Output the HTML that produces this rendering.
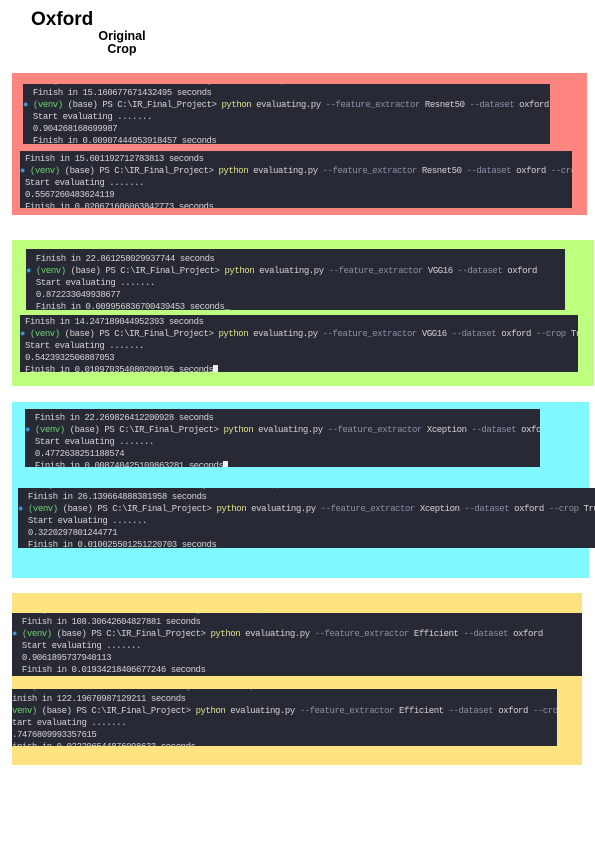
<!DOCTYPE html>
<html><head><meta charset="utf-8"><style>
body{margin:0;width:595px;height:842px;background:#fff;position:relative;overflow:hidden;font-family:"Liberation Sans",sans-serif}
.p{position:absolute}
.t{position:absolute;background:#272a35;overflow:hidden;font-family:"Liberation Mono",monospace;font-size:9px;letter-spacing:-0.44px;line-height:12px;color:#d4d4d4;box-sizing:border-box;padding-top:2px}
.t div{height:12px;white-space:pre}
.y{color:#e2e08c}.g{color:#6fd36f}.f{color:#8a90aa}.d{color:#3a96dd}
.cur{display:inline-block;width:5px;height:8px;background:#eee;vertical-align:-1px}
.dim{color:#6a6f80}
</style></head><body>
<div class="p" style="left:31px;top:9px;font-size:19px;font-weight:bold">Oxford</div>
<div class="p" style="left:95px;top:30px;font-size:12.5px;font-weight:bold;line-height:12.5px;text-align:center;width:54px">Original<br>Crop</div>

<div class="p" style="left:12px;top:73px;width:575px;height:142px;background:#ff8680"></div>
<div class="p" style="left:12px;top:240px;width:582px;height:146px;background:#bfff80"></div>
<div class="p" style="left:12px;top:402px;width:577px;height:176px;background:#80f8ff"></div>
<div class="p" style="left:12px;top:593px;width:570px;height:172px;background:#ffe380"></div>

<div class="t" style="left:23px;top:84px;width:527px;height:60px"><div style="margin-top:-11px" class="dim">  1/1 [==============================] - 0s 31ms/step</div><div>  Finish in 15.160677671432495 seconds</div><div><span class="d">●</span> <span class="g">(venv)</span> (base) PS C:\IR_Final_Project&gt; <span class="y">python</span> evaluating.py <span class="f">--feature_extractor</span> Resnet50 <span class="f">--dataset</span> oxford</div><div>  Start evaluating .......</div><div>  0.904268168699987</div><div>  Finish in 0.00907444953918457 seconds</div><div class="dim">  (venv) (base) PS C:\IR_Final_Project&gt; <span class="cur"></span></div></div>
<div class="t" style="left:20px;top:151px;width:552px;height:57px"><div style="margin-top:-12px" class="dim"> 1/1 [==============================] - 0s 31ms/step</div><div> Finish in 15.601192712783813 seconds</div><div><span class="d">●</span> <span class="g">(venv)</span> (base) PS C:\IR_Final_Project&gt; <span class="y">python</span> evaluating.py <span class="f">--feature_extractor</span> Resnet50 <span class="f">--dataset</span> oxford <span class="f">--crop</span> True</div><div> Start evaluating .......</div><div> 0.5567260483624119</div><div> Finish in 0.020671606063842773 seconds</div><div><span class="g">(venv)</span> (base) PS C:\IR_Final_Project&gt; <span class="cur"></span></div></div>

<div class="t" style="left:26px;top:249px;width:539px;height:61px"><div style="margin-top:2px">  Finish in 22.861258029937744 seconds</div><div><span class="d">●</span> <span class="g">(venv)</span> (base) PS C:\IR_Final_Project&gt; <span class="y">python</span> evaluating.py <span class="f">--feature_extractor</span> VGG16 <span class="f">--dataset</span> oxford</div><div>  Start evaluating .......</div><div>  0.872233049938677</div><div>  Finish in 0.009956836700439453 seconds_</div></div>
<div class="t" style="left:20px;top:315px;width:558px;height:57px"><div style="margin-top:-1px"> Finish in 14.247189044952393 seconds</div><div><span class="d">●</span> <span class="g">(venv)</span> (base) PS C:\IR_Final_Project&gt; <span class="y">python</span> evaluating.py <span class="f">--feature_extractor</span> VGG16 <span class="f">--dataset</span> oxford <span class="f">--crop</span> True</div><div> Start evaluating .......</div><div> 0.5423932506887053</div><div> Finish in 0.010970354080200195 seconds<span class="cur"></span></div></div>

<div class="t" style="left:25px;top:409px;width:515px;height:58px"><div style="margin-top:1px">  Finish in 22.269826412200928 seconds</div><div><span class="d">●</span> <span class="g">(venv)</span> (base) PS C:\IR_Final_Project&gt; <span class="y">python</span> evaluating.py <span class="f">--feature_extractor</span> Xception <span class="f">--dataset</span> oxford</div><div>  Start evaluating .......</div><div>  0.4772638251188574</div><div>  Finish in 0.008740425109863281 seconds<span class="cur"></span></div></div>
<div class="t" style="left:18px;top:488px;width:577px;height:60px"><div style="margin-top:-11px" class="dim">  1/1 [==============================] - 0s 31ms/step</div><div>  Finish in 26.139664888381958 seconds</div><div><span class="d">●</span> <span class="g">(venv)</span> (base) PS C:\IR_Final_Project&gt; <span class="y">python</span> evaluating.py <span class="f">--feature_extractor</span> Xception <span class="f">--dataset</span> oxford <span class="f">--crop</span> True</div><div>  Start evaluating .......</div><div>  0.3220297801244771</div><div>  Finish in 0.010025501251220703 seconds</div><div class="dim">  (venv) (base) PS C:\IR_Final_Project&gt;</div></div>

<div class="t" style="left:12px;top:613px;width:570px;height:63px"><div style="margin-top:-11px" class="dim">  1/1 [==============================] - 1s 1s/step</div><div>  Finish in 108.30642604827881 seconds</div><div><span class="d">●</span> <span class="g">(venv)</span> (base) PS C:\IR_Final_Project&gt; <span class="y">python</span> evaluating.py <span class="f">--feature_extractor</span> Efficient <span class="f">--dataset</span> oxford</div><div>  Start evaluating .......</div><div>  0.9061895737940113</div><div>  Finish in 0.01934218406677246 seconds</div><div class="dim">  (venv) (base) PS C:\IR_Final_Project&gt; <span class="cur"></span></div></div>
<div class="t" style="left:12px;top:689px;width:545px;height:57px"><div style="margin-top:-10px" class="dim">1/1 [==============================] - 1s 1s/step</div><div>inish in 122.19670987129211 seconds</div><div><span class="g">venv)</span> (base) PS C:\IR_Final_Project&gt; <span class="y">python</span> evaluating.py <span class="f">--feature_extractor</span> Efficient <span class="f">--dataset</span> oxford <span class="f">--crop</span> True</div><div>tart evaluating .......</div><div>.7476809993357615</div><div>inish in 0.022206544876098633 seconds_</div></div>
</body></html>
